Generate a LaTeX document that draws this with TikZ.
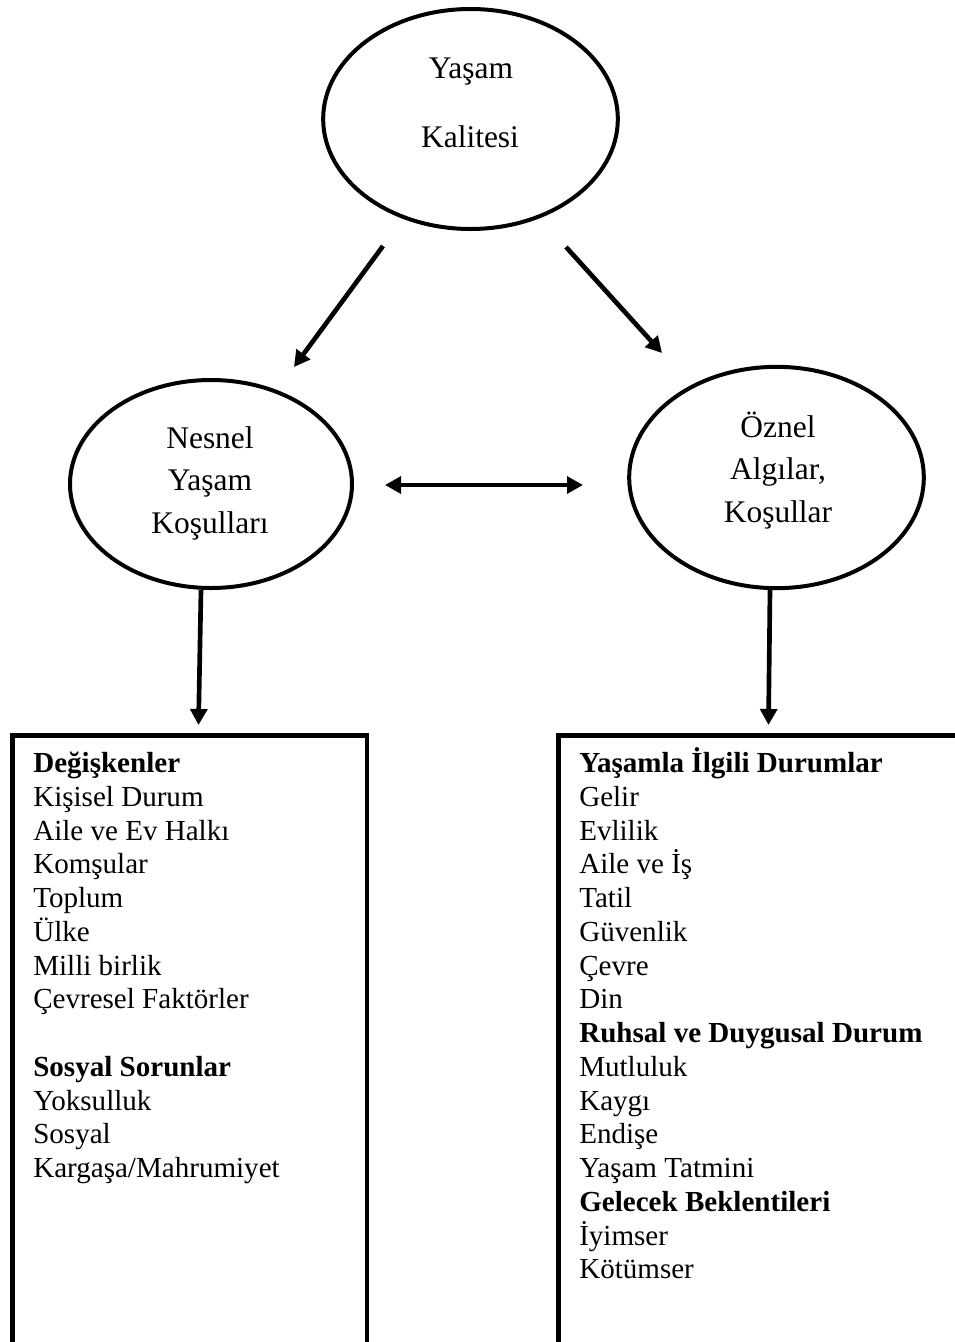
\documentclass[tikz,border=0pt]{standalone}
\usepackage{fontspec}
\setmainfont{Liberation Serif}
\usetikzlibrary{shapes.geometric,arrows.meta}
\begin{document}
\begin{tikzpicture}[x=0.75pt,y=-0.75pt,
  oval/.style={draw,ellipse,line width=3pt,inner sep=0pt},
  ovaltext/.style={anchor=base,inner sep=0pt,font=\fontsize{23.6}{28}\selectfont},
  boxtext/.style={anchor=base west,inner sep=0pt,font=\fontsize{21.8}{25}\selectfont},
  conn/.style={line width=3.5pt,-{Triangle[length=12pt,width=12.5pt]}},
  twoway/.style={line width=3.5pt,{Triangle[length=12pt,width=12.5pt]}-{Triangle[length=12pt,width=12.5pt]}},
  panel/.style={draw,line width=3.4pt,anchor=north west,inner sep=0pt}]

\useasboundingbox (0,0) rectangle (955,1342);

% ellipses
\node[oval,minimum width=221pt,minimum height=165pt] (top) at (470.5,119) {};
\node[ovaltext] (topa) at (471,78) {Yaşam};
\node[ovaltext] (topb) at (470,147) {Kalitesi};

\node[oval,minimum width=211.5pt,minimum height=156pt] (left) at (211,484) {};
\node[ovaltext] (lefta) at (210,448) {Nesnel};
\node[ovaltext] (leftb) at (210,490.5) {Yaşam};
\node[ovaltext] (leftc) at (210,533) {Koşulları};

\node[oval,minimum width=221pt,minimum height=166pt] (right) at (776.5,477.5) {};
\node[ovaltext] (righta) at (778,437) {Öznel};
\node[ovaltext] (rightb) at (778,479.5) {Algılar,};
\node[ovaltext] (rightc) at (778,522) {Koşullar};

% panels
\node[panel,minimum width=265.9pt,minimum height=457.1pt] (lbox) at (10,733) {};
\node[panel,minimum width=304.5pt,minimum height=457.1pt] (rbox) at (556,733) {};

% arrow end points
\coordinate (d1s) at (383,246);
\coordinate (d1e) at (294,367);
\coordinate (d2s) at (566,247);
\coordinate (d2e) at (662,353);
\coordinate (hl) at (385,485);
\coordinate (hr) at (583,485);
\coordinate (v1s) at (201,590);
\coordinate (v1e) at (198.5,725);
\coordinate (v2s) at (770,590);
\coordinate (v2e) at (768.5,725);

\draw[conn] (d1s) -- (d1e);
\draw[conn] (d2s) -- (d2e);
\draw[twoway] (hl) -- (hr);
\draw[conn] (v1s) -- (v1e);
\draw[conn] (v2s) -- (v2e);

% left panel text
\foreach \t [count=\i from 0] in {{\textbf{Değişkenler}},Kişisel Durum,Aile ve Ev Halkı,Komşular,Toplum,Ülke,Milli birlik,Çevresel Faktörler}
  \node[boxtext] (la\i) at (33,{772.7+33.75*\i}) {\t};
\foreach \t [count=\i from 0] in {{\textbf{Sosyal Sorunlar}},Yoksulluk,Sosyal,Kargaşa/Mahrumiyet}
  \node[boxtext] (lb\i) at (33,{772.7+33.75*(\i+9)}) {\t};

% right panel text
\foreach \t [count=\i from 0] in {{\textbf{Yaşamla İlgili Durumlar}},Gelir,Evlilik,Aile ve İş,Tatil,Güvenlik,Çevre,Din,{\textbf{Ruhsal ve Duygusal Durum}},Mutluluk,Kaygı,Endişe,Yaşam Tatmini,{\textbf{Gelecek Beklentileri}},İyimser,Kötümser}
  \node[boxtext] (r\i) at (579,{772.7+33.75*\i}) {\t};
\end{tikzpicture}
\end{document}
